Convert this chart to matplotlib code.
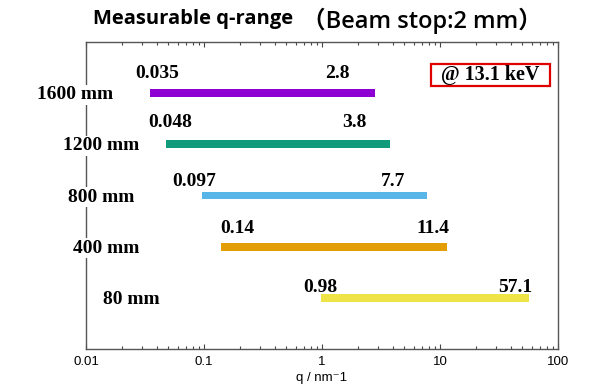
import matplotlib
matplotlib.use('Agg')
import matplotlib.pyplot as plt
from matplotlib.patches import Rectangle
from matplotlib.ticker import FixedLocator, FixedFormatter, LogLocator, NullFormatter

# Messbereiche je Kameralänge
distances = ['1600 mm', '1200 mm', '800 mm', '400 mm', '80 mm']
q_min = [0.035, 0.048, 0.097, 0.14, 0.98]
q_max = [2.8, 3.8, 7.7, 11.4, 57.1]
q_min_labels = ['0.035', '0.048', '0.097', '0.14', '0.98']
q_max_labels = ['2.8', '3.8', '7.7', '11.4', '57.1']
bar_colors = ['#8E00D2', '#0F9B79', '#57B5E8', '#E39D05', '#EEE347']

x_ticks = [0.01, 0.1, 1, 10, 100]
x_tick_labels = ['0.01', '0.1', '1', '10', '100']

# label offsets in pixels (from the reference)
min_dx = [-15, -18, -30, -1, -18]
max_dx = [-25, -24, -21, 3, 3]
label_dy = [15, 17, 9, 14, 6]
name_dx = [-49, -23, -18, -13, 17]

W, H = 597, 392
fig = plt.figure(figsize=(W / 100, H / 100), dpi=100)
ax = fig.add_axes([86 / W, 1 - 349 / H, 472 / W, 307 / H])

rows = list(range(len(distances)))
ax.barh(rows, [hi - lo for lo, hi in zip(q_min, q_max)], left=q_min,
        height=0.15, color=bar_colors, zorder=2)

ax.set_xscale('log')
ax.set_xlim(0.01, 100)
ax.set_ylim(len(rows), -1)
ax.set_yticks([])

ax.xaxis.set_major_locator(FixedLocator(x_ticks))
ax.xaxis.set_major_formatter(FixedFormatter(x_tick_labels))
ax.xaxis.set_minor_locator(LogLocator(base=10, subs=range(2, 10)))
ax.xaxis.set_minor_formatter(NullFormatter())
ax.tick_params(axis='x', which='both', direction='in', top=True, bottom=True,
               color='#444444', width=0.8, pad=5, labelsize=9.5,
               labelfontfamily='Liberation Sans')
ax.tick_params(axis='x', which='major', length=3.5)
ax.tick_params(axis='x', which='minor', length=2)

for sp in ax.spines.values():
    sp.set_color('#555555')
    sp.set_linewidth(1.0)

ax.set_xlabel('q / nm\u207b1', fontsize=9.5, family=['Liberation Sans', 'DejaVu Sans'],
              labelpad=3)

serif = dict(fontfamily='Liberation Serif', fontweight='bold', fontsize=14, color='black')

for i in rows:
    ax.annotate(q_min_labels[i], xy=(q_min[i], i), xytext=(min_dx[i], label_dy[i]),
                textcoords='offset pixels', ha='left', va='baseline', **serif)
    ax.annotate(q_max_labels[i], xy=(q_max[i], i), xytext=(max_dx[i], label_dy[i]),
                textcoords='offset pixels', ha='right', va='baseline', **serif)
    ax.annotate(distances[i], xy=(0, i), xycoords=('axes fraction', 'data'),
                xytext=(name_dx[i], -6), textcoords='offset pixels',
                ha='left', va='baseline', annotation_clip=False, zorder=5,
                bbox=dict(facecolor='white', edgecolor='none', pad=1), **serif)

# Energie-Kasten
ax.add_patch(Rectangle((0.731, 0.857), 0.252, 0.072, transform=ax.transAxes,
                       fill=False, edgecolor='#E00000', linewidth=1.6, zorder=4))
ax.text(0.857, 0.892, '@ 13.1 keV', transform=ax.transAxes, ha='center',
        va='center', **dict(serif, fontsize=14.5))

fig.text(93 / W, 1 - 24 / H, 'Measurable q-range', family=['Open Sans', 'DejaVu Sans'],
         fontweight='bold', fontsize=14.5, va='baseline')
fig.text(302 / W, 1 - 28 / H, '（Beam stop:2 mm）',
         family=['Open Sans', 'Noto Sans CJK JP', 'DejaVu Sans'],
         fontweight='semibold', fontsize=17, va='baseline')

fig.savefig('out.png', dpi=100)
